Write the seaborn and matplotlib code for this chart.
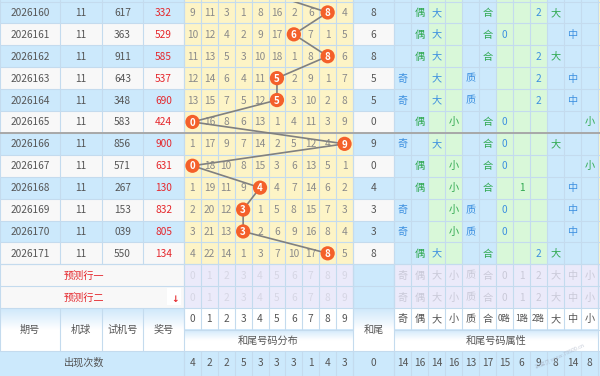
import numpy as np
import pandas as pd
import seaborn as sns
import matplotlib.pyplot as plt
from matplotlib.patches import Rectangle
from matplotlib.colors import LinearSegmentedColormap

sns.set_theme(style="white")
plt.rcParams['font.family'] = ['Noto Sans CJK SC', 'DejaVu Sans']

# data
periods = ["2026160", "2026161", "2026162", "2026163", "2026164", "2026165",
           "2026166", "2026167", "2026168", "2026169", "2026170", "2026171"]
balls = ["11"] * 12
test_nums = ["617", "363", "911", "643", "348", "583", "856", "571", "267", "153", "039", "550"]
prize_nums = ["332", "529", "585", "537", "690", "424", "900", "631", "130", "832", "805", "134"]
tails = [8, 6, 8, 5, 5, 0, 9, 0, 4, 3, 3, 8]
prev_tail = 4  # 2026159, only the line stub is visible
miss = [
    [9, 11, 3, 1, 8, 16, 2, 6, 0, 4],
    [10, 12, 4, 2, 9, 17, 0, 7, 1, 5],
    [11, 13, 5, 3, 10, 18, 1, 8, 0, 6],
    [12, 14, 6, 4, 11, 0, 2, 9, 1, 7],
    [13, 15, 7, 5, 12, 0, 3, 10, 2, 8],
    [0, 16, 8, 6, 13, 1, 4, 11, 3, 9],
    [1, 17, 9, 7, 14, 2, 5, 12, 4, 0],
    [0, 18, 10, 8, 15, 3, 6, 13, 5, 1],
    [1, 19, 11, 9, 0, 4, 7, 14, 6, 2],
    [2, 20, 12, 0, 1, 5, 8, 15, 7, 3],
    [3, 21, 13, 0, 2, 6, 9, 16, 8, 4],
    [4, 22, 14, 1, 3, 7, 10, 17, 0, 5],
]
odd_even = ["偶", "偶", "偶", "奇", "奇", "偶", "奇", "偶", "偶", "奇", "奇", "偶"]
big_small = ["大", "大", "大", "大", "大", "小", "大", "小", "小", "小", "小", "大"]
prime_comp = ["合", "合", "合", "质", "质", "合", "合", "合", "合", "质", "质", "合"]
route = ["2", "0", "2", "2", "2", "0", "0", "0", "1", "0", "0", "2"]
size3 = ["大", "中", "大", "中", "中", "小", "大", "小", "中", "中", "中", "大"]
attr_labels = ["奇", "偶", "大", "小", "质", "合", "0路", "1路", "2路", "大", "中", "小"]
predict_labels = ["奇", "偶", "大", "小", "质", "合", "0", "1", "2", "大", "中", "小"]
digit_counts = [4, 2, 2, 5, 3, 3, 3, 1, 4, 3]
tail_count = 0
attr_counts = [14, 16, 14, 16, 13, 17, 15, 6, 9, 8, 14, 8]

# colours
BLUE = "#cce9fc"
WHITE = "#f8f8f8"
YELLOW = "#fdf4c6"
GREEN = "#d9f8d9"
PURPLE = "#ebeafa"
GRID = "#c4dbee"
TXT = "#555555"
GRAY = "#8a8a8a"
RED = "#e5262b"
ABLUE = "#3b8fe0"
AGREEN = "#2ea84e"
ORANGE = "#f4602a"

# layout in pixels
left_edges = [0, 60, 102, 143, 184]
dig_edges = [184 + 16.9 * k for k in range(11)]
tail_edges = [353, 394]
attr_edges = [394 + 17 * k for k in range(13)]
y0, rh = 1.5, 21.9
row_edges = [y0 + rh * k for k in range(13)]
pred_edges = [row_edges[-1], row_edges[-1] + rh, 308]
attr_bg = [BLUE, BLUE, GREEN, GREEN, BLUE, BLUE, GREEN, GREEN, GREEN, BLUE, BLUE, BLUE]

fig = plt.figure(figsize=(6, 3.76), dpi=100)
ax = fig.add_axes([0, 0, 1, 1])
ax.set_xlim(0, 600)
ax.set_ylim(376, 0)
ax.axis("off")

def cell(x0, x1, ya, yb, color):
    ax.add_patch(Rectangle((x0, ya), x1 - x0, yb - ya, facecolor=color, edgecolor="none", zorder=0))

def txt(x, y, s, color=TXT, size=7.3, **kw):
    ax.text(x, y, s, color=color, fontsize=size, ha="center", va="center", zorder=3, **kw)

# data rows
for i in range(12):
    ya, yb = row_edges[i], row_edges[i + 1]
    if i == 0:
        ya = 0
    ym = (row_edges[i] + row_edges[i + 1]) / 2 + 0.5
    base = BLUE if i % 2 == 0 else WHITE
    cell(0, 184, ya, yb, base)
    cell(184, 353, ya, yb, YELLOW)
    cell(353, 394, ya, yb, base)
    for k in range(12):
        cell(attr_edges[k], attr_edges[k + 1], ya, yb, attr_bg[k])
    cell(598, 600, ya, yb, YELLOW)
    cols = [periods[i], balls[i], test_nums[i], prize_nums[i]]
    for k, s in enumerate(cols):
        txt((left_edges[k] + left_edges[k + 1]) / 2, ym, s, RED if k == 3 else TXT)
    for d in range(10):
        if miss[i][d] != 0:
            txt((dig_edges[d] + dig_edges[d + 1]) / 2, ym, str(miss[i][d]), GRAY)
    txt(373.5, ym, str(tails[i]))
    oe = 0 if odd_even[i] == "奇" else 1
    bs = 2 if big_small[i] == "大" else 3
    pc = 4 if prime_comp[i] == "质" else 5
    rt = 6 + int(route[i])
    sz = {"大": 9, "中": 10, "小": 11}[size3[i]]
    for k, s in [(oe, odd_even[i]), (bs, big_small[i]), (pc, prime_comp[i]),
                 (rt, route[i]), (sz, size3[i])]:
        txt((attr_edges[k] + attr_edges[k + 1]) / 2, ym, s, ABLUE if k % 2 == 0 else AGREEN)

# prediction rows
for j, name in enumerate(["预测行一", "预测行二"]):
    ya, yb = pred_edges[j], pred_edges[j + 1]
    ym = (ya + yb) / 2 + 0.5
    cell(0, 184, ya, yb, WHITE)
    cell(184, 353, ya, yb, PURPLE)
    cell(353, 394, ya, yb, BLUE)
    cell(394, 598, ya, yb, PURPLE)
    cell(598, 600, ya, yb, PURPLE)
    txt(84, ym, name, RED)
    for d in range(10):
        txt((dig_edges[d] + dig_edges[d + 1]) / 2, ym, str(d), "#d6d6e4")
    for k in range(12):
        txt((attr_edges[k] + attr_edges[k + 1]) / 2, ym, predict_labels[k], "#c9c9d8")
ax.add_patch(Rectangle((167, 288), 14, 17, facecolor="white", edgecolor="none", zorder=1))
txt(175, 300, "↓", RED, size=6.5, fontweight="bold", family="DejaVu Sans")

# header with gradient cells
cmap = LinearSegmentedColormap.from_list("hdr", ["#cfe8fb", "#ffffff", "#ffffff"])
grad = np.linspace(0, 1, 50).reshape(-1, 1)

def gcell(x0, x1, ya, yb):
    ax.imshow(grad, extent=[x0, x1, yb, ya], cmap=cmap, aspect="auto", zorder=0.5)

for k in range(4):
    gcell(left_edges[k], left_edges[k + 1], 308, 351)
gcell(353, 394, 308, 351)
gcell(184, 353, 329.5, 351)
gcell(394, 598, 329.5, 351)
cell(184, 353, 308, 329.5, "white")
cell(394, 600, 308, 329.5, "white")
cell(598, 600, 329.5, 351, "white")
for k, s in enumerate(["期号", "机球", "试机号", "奖号"]):
    txt((left_edges[k] + left_edges[k + 1]) / 2, 330, s)
txt(373.5, 330, "和尾")
for d in range(10):
    txt((dig_edges[d] + dig_edges[d + 1]) / 2, 319, str(d))
txt(268.5, 341, "和尾号码分布")
for k in range(12):
    txt((attr_edges[k] + attr_edges[k + 1]) / 2, 319, attr_labels[k],
        size=7.3 if k < 6 or k > 8 else 6.0)
txt(496, 341, "和尾号码属性")

# count row
cell(0, 600, 351, 376, BLUE)
txt(84, 363, "出现次数")
for d in range(10):
    txt((dig_edges[d] + dig_edges[d + 1]) / 2, 363, str(digit_counts[d]))
txt(373.5, 363, str(tail_count))
for k in range(12):
    txt((attr_edges[k] + attr_edges[k + 1]) / 2, 363, str(attr_counts[k]))
ax.text(560, 356, "彩宝贝 www.78500.cn", color="#aab4c6", fontsize=3.8, rotation=25,
        ha="center", va="center", alpha=0.75, zorder=4)

# grid lines
lw = 0.8
for x in left_edges + dig_edges + tail_edges + attr_edges:
    ax.plot([x, x], [0, 264.3], color=GRID, lw=lw, zorder=2)
for x in dig_edges + tail_edges + attr_edges:
    ax.plot([x, x], [264.3, 308], color=GRID, lw=lw, zorder=2)
for x in left_edges[:1] + [184, 353, 394, 598]:
    ax.plot([x, x], [264.3, 308], color=GRID, lw=lw, zorder=2)
for x in left_edges + [353, 394, 598]:
    ax.plot([x, x], [308, 351], color=GRID, lw=lw, zorder=2)
for x in dig_edges + attr_edges:
    ax.plot([x, x], [308, 329.5], color=GRID, lw=lw, zorder=2)
for x in [184] + dig_edges + tail_edges + attr_edges:
    ax.plot([x, x], [351, 376], color=GRID, lw=lw, zorder=2)
for y in row_edges + pred_edges + [351]:
    ax.plot([0, 600], [y, y], color=GRID, lw=lw, zorder=2)
ax.plot([184, 353], [329.5, 329.5], color=GRID, lw=lw, zorder=2)
ax.plot([394, 600], [329.5, 329.5], color=GRID, lw=lw, zorder=2)
ax.plot([0, 600], [row_edges[6], row_edges[6]], color="#a8a8a8", lw=1.4, zorder=2.5)

# trend line of the tail numbers over the digit columns
trend = pd.DataFrame({"digit": [prev_tail] + tails, "row": list(range(-1, 12))})
ax2 = fig.add_axes([184 / 600, 1 - row_edges[-1] / 376, 169 / 600, (row_edges[-1] - y0) / 376])
ax2.set_xlim(-0.5, 9.5)
ax2.set_ylim(11.5, -0.5)
ax2.patch.set_alpha(0)
ax2.axis("off")
sns.lineplot(data=trend, x="digit", y="row", sort=False, estimator=None,
             color="#808080", lw=1.2, ax=ax2, zorder=3)
sns.scatterplot(data=trend[trend["row"] >= 0], x="digit", y="row", s=105,
                color=ORANGE, edgecolor="none", ax=ax2, zorder=4)
for _, r in trend[trend["row"] >= 0].iterrows():
    ax2.text(r["digit"], r["row"] + 0.03, str(int(r["digit"])), color="white", fontsize=7,
             ha="center", va="center", fontweight="bold", zorder=5)

fig.savefig("out.png", dpi=100)
